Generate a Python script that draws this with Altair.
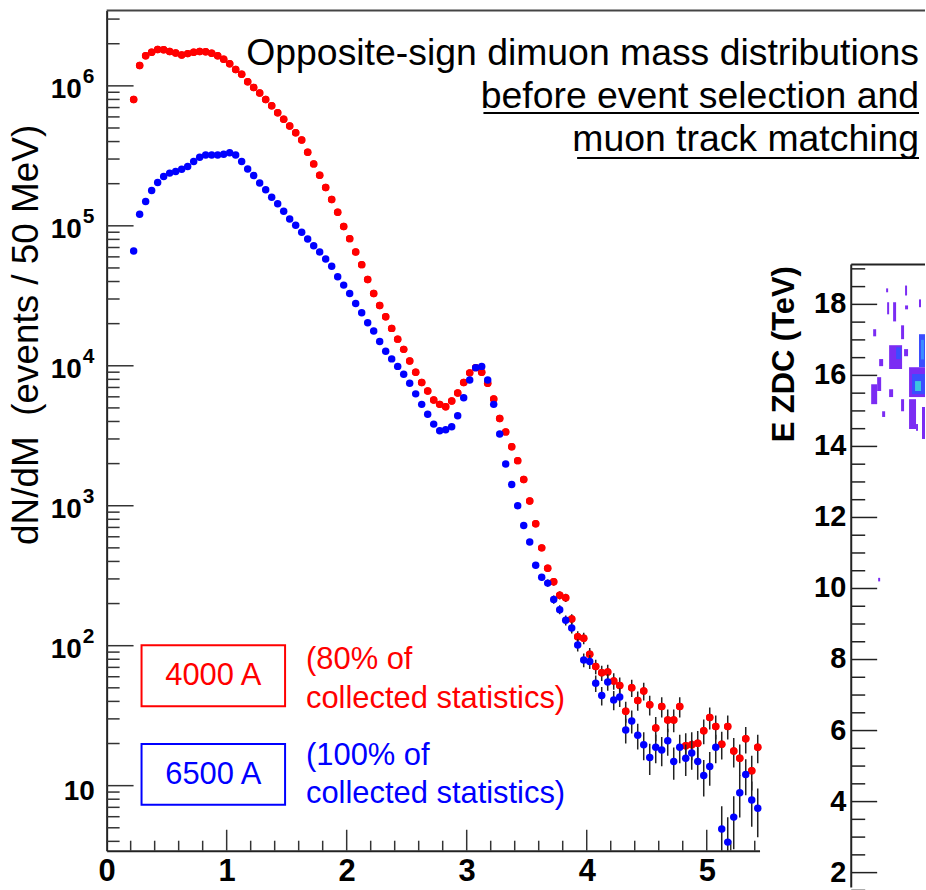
import altair as alt
import pandas as pd

# ---------------- data ----------------
mass = [round(0.225 + 0.05 * i, 3) for i in range(105)]  # bin centres, 50 MeV bins

red_4000A = [
    8.0e5, 1.40e6, 1.64e6, 1.74e6, 1.82e6, 1.81e6, 1.76e6, 1.72e6, 1.66e6, 1.70e6,
    1.74e6, 1.76e6, 1.75e6, 1.71e6, 1.64e6, 1.55e6, 1.44e6, 1.31e6, 1.21e6, 1.07e6,
    9.75e5, 8.9e5, 8.0e5, 7.2e5, 6.43e5, 5.77e5, 5.17e5, 4.63e5, 4.10e5, 3.35e5,
    2.77e5, 2.30e5, 1.88e5, 1.54e5, 1.25e5, 9.9e4, 8.1e4, 6.5e4, 5.28e4, 4.13e4,
    3.28e4, 2.70e4, 2.24e4, 1.85e4, 1.55e4, 1.31e4, 1.08e4, 9.0e3, 7.6e3, 6.6e3,
    5.7e3, 5.3e3, 5.1e3, 5.6e3, 6.4e3, 7.6e3, 8.9e3, 9.7e3, 9.0e3, 7.5e3,
    5.8e3, 4.2e3, 3.37e3, 2.64e3, 2.10e3, 1.54e3, 1.08e3, 743, 500, 358,
    286, 229, 220, 155, 116, 113, 87, 71, 64, 65,
    56, 52, 34, 50, 40.6, 47.5, 37.8, 25.8, 36.8, 29.5,
    29.5, 36.8, 19.3, 19.6, 20.1, 24.7, 30.7, 26.5, 19.8, 26.5,
    17.7, 15.7, 21.6, 12.8, 18.8,
]

blue_6500A = [
    6.6e4, 1.21e5, 1.49e5, 1.79e5, 2.04e5, 2.25e5, 2.38e5, 2.44e5, 2.54e5, 2.65e5,
    2.88e5, 3.09e5, 3.21e5, 3.21e5, 3.21e5, 3.25e5, 3.33e5, 3.21e5, 2.88e5, 2.55e5,
    2.29e5, 2.02e5, 1.81e5, 1.60e5, 1.44e5, 1.27e5, 1.12e5, 1.01e5, 9.0e4, 8.05e4,
    7.2e4, 6.5e4, 5.8e4, 5.14e4, 4.32e4, 3.77e4, 3.28e4, 2.79e4, 2.39e4, 2.03e4,
    1.77e4, 1.49e4, 1.27e4, 1.12e4, 9.9e3, 8.7e3, 7.5e3, 6.3e3, 5.3e3, 4.5e3,
    3.83e3, 3.43e3, 3.49e3, 3.67e3, 4.39e3, 5.9e3, 7.9e3, 9.7e3, 9.9e3, 7.9e3,
    5.3e3, 3.25e3, 1.99e3, 1.42e3, 1.0e3, 723, 551, 375, 308, 280,
    214, 181, 152, 134, 101, 79, 77, 54, 44, 55,
    41, 43, 25, 29, 22.9, 19.6, 15.9, 18.8, 18.0, 20.9,
    14.9, 18.8, 15.7, 17.1, 14.9, 11.8, 13.7, 18.8, 4.9, 3.95,
    5.96, 8.9, 12.0, 7.9, 6.9,
]

x_major = [0, 1, 2, 3, 4, 5]
y_major = [10, 100, 1000, 10000, 100000, 1000000]
y_exponent = ["", "2", "3", "4", "5", "6"]

# inset (E ZDC) axis and visible cells
zdc_major = [2, 4, 6, 8, 10, 12, 14, 16, 18]
zdc_minor = [1.5 + 0.5 * i for i in range(36) if (1.5 + 0.5 * i) % 2 != 0]
cell_x0 = [35, 54, 36, 42, 68, 54, 22, 50, 68, 70, 38, 45, 53, 28, 26, 20, 38, 58, 61, 64, 50, 58, 31, 71, 65, 27]
cell_x1 = [37, 56, 38, 45, 70, 57, 25, 53, 74, 73, 51, 50, 57, 32, 30, 26, 42, 74, 74, 70, 53, 65, 34, 74, 67, 29]
cell_y0 = [18.34, 18.25, 17.72, 17.52, 17.92, 17.86, 17.10, 17.02, 16.23, 16.45, 16.18, 16.46, 16.54, 16.26, 15.56, 15.19, 15.39, 15.39, 15.47, 15.56, 14.99, 14.49, 14.83, 14.21, 14.44, 10.2]
cell_y1 = [18.45, 18.53, 18.06, 18.06, 18.14, 17.97, 17.30, 17.41, 17.16, 17.0, 16.85, 16.79, 16.74, 16.46, 15.95, 15.75, 15.61, 16.23, 16.04, 15.84, 15.33, 15.33, 14.99, 15.11, 14.63, 10.3]
cell_lvl = [1, 1, 1, 1, 1, 1, 1, 1, 2, 3, 1, 2, 1, 1, 1, 1, 1, 1, 2, 4, 1, 1, 1, 1, 1, 1]

# ---------------- styles ----------------
NUM_FONT = "Liberation Sans"
TXT_FONT = "Liberation Sans"
W, H = 655, 843
XS = alt.Scale(domain=[0, 5.44], nice=False, zero=False)
YS = alt.Scale(type="log", domain=[3.43, 3.46e6], nice=False)
one = pd.DataFrame({"a": [0]})
NB = "\u00a0"

x_axis = alt.Axis(values=x_major, format="d", title=None, grid=False, ticks=False,
                  domainColor="#222", domainWidth=2, labelFont=NUM_FONT, labelFontSize=31,
                  labelFontWeight="bold", labelColor="black", labelPadding=6, labelFlush=False)
y_axis = alt.Axis(values=y_major, labels=False, grid=False, ticks=False,
                  domainColor="#222", domainWidth=2,
                  title=f"dN/dM{NB}{NB}(events / 50 MeV)", titleFont=TXT_FONT, titleFontSize=37,
                  titleFontWeight="normal", titleColor="black", titleAngle=-90,
                  titleX=-69, titleY=325, titleAlign="center", titleBaseline="alphabetic")

red_df = pd.DataFrame({"m": mass, "v": red_4000A})
blue_df = pd.DataFrame({"m": mass, "v": blue_6500A})


def err_layer(df):
    return alt.Chart(df).transform_calculate(
        lo="datum.v - sqrt(datum.v)", hi="datum.v + sqrt(datum.v)"
    ).mark_rule(color="#222", strokeWidth=1.5, clip=True).encode(
        x=alt.X("m:Q", scale=XS, axis=None),
        y=alt.Y("lo:Q", scale=YS, axis=None),
        y2="hi:Q",
    )


def pts_layer(df, col, with_axes=False):
    return alt.Chart(df).mark_circle(size=56, opacity=1, color=col).encode(
        x=alt.X("m:Q", scale=XS, axis=x_axis if with_axes else None),
        y=alt.Y("v:Q", scale=YS, axis=y_axis if with_axes else None),
    )


# y tick labels "10" with a raised exponent
lab_df = pd.DataFrame({"t": y_major, "e": y_exponent})
ylab_ten_1 = alt.Chart(lab_df[lab_df.t == 10]).mark_text(
    text="10", font=NUM_FONT, fontSize=28, fontWeight="bold", color="black",
    align="right", baseline="alphabetic", dy=14).encode(
    y=alt.Y("t:Q", scale=YS, axis=None), x=alt.value(-12))
ylab_ten = alt.Chart(lab_df[lab_df.t > 10]).mark_text(
    text="10", font=NUM_FONT, fontSize=28, fontWeight="bold", color="black",
    align="right", baseline="alphabetic", dy=12).encode(
    y=alt.Y("t:Q", scale=YS, axis=None), x=alt.value(-25))
ylab_exp = alt.Chart(lab_df[lab_df.t > 10]).mark_text(
    font=NUM_FONT, fontSize=21, fontWeight="bold", color="black",
    align="left", baseline="alphabetic", dy=-3).encode(
    y=alt.Y("t:Q", scale=YS, axis=None), x=alt.value(-24), text="e:N")

y_ticks_minor = [k * 10 ** n for n in range(0, 7) for k in range(2, 10)
                 if 3.43 <= k * 10 ** n <= 3.46e6]
ytick_major = alt.Chart(pd.DataFrame({"t": y_major})).mark_rule(color="#333", strokeWidth=1.5).encode(
    y=alt.Y("t:Q", scale=YS, axis=None), x=alt.value(0), x2=alt.value(27))
ytick_minor = alt.Chart(pd.DataFrame({"t": y_ticks_minor})).mark_rule(color="#333", strokeWidth=1.5).encode(
    y=alt.Y("t:Q", scale=YS, axis=None), x=alt.value(0), x2=alt.value(13))
x_minor = [round(0.2 * i, 1) for i in range(1, 28) if i % 5 != 0]
xtick_major = alt.Chart(pd.DataFrame({"t": x_major[1:]})).mark_rule(color="#333", strokeWidth=1.5).encode(
    x=alt.X("t:Q", scale=XS, axis=None), y=alt.value(H), y2=alt.value(H - 21))
xtick_minor = alt.Chart(pd.DataFrame({"t": x_minor})).mark_rule(color="#333", strokeWidth=1.5).encode(
    x=alt.X("t:Q", scale=XS, axis=None), y=alt.value(H), y2=alt.value(H - 10))

top_frame = alt.Chart(one).mark_rule(color="#444", strokeWidth=2).encode(
    x=alt.value(0), x2=alt.value(821), y=alt.value(0))


def txt(s, x, y, col="black", size=31, align="left", baseline="alphabetic", font=TXT_FONT,
        weight="normal", angle=0):
    return alt.Chart(one).mark_text(text=s, font=font, fontSize=size, color=col, fontWeight=weight,
                                    align=align, baseline=baseline, angle=angle).encode(
        x=alt.value(x), y=alt.value(y))


def box(y0, y1, col):
    return alt.Chart(one).mark_rect(fill=None, stroke=col, strokeWidth=2).encode(
        x=alt.value(35), x2=alt.value(179), y=alt.value(y0), y2=alt.value(y1))


def uline(x0, y):
    return alt.Chart(one).mark_rule(color="black", strokeWidth=2).encode(
        x=alt.value(x0), x2=alt.value(815), y=alt.value(y))


# ---------------- inset (placed with pixel ranges to the right of the main frame) ----------------
IX0, IX1 = 747, 821      # inset frame, relative to the main plot origin
IYT, IYB = 255, 880
IXS = alt.Scale(domain=[0, 74], range=[IX0, IX1], nice=False, zero=False)
IYS = alt.Scale(domain=[1.579, 19.12], range=[IYB, IYT], nice=False, zero=False)

cells = pd.DataFrame({"x0": cell_x0, "x1": cell_x1, "y0": cell_y0, "y1": cell_y1, "lvl": cell_lvl})
cell_layer = alt.Chart(cells).mark_rect().encode(
    x=alt.X("x0:Q", scale=IXS, axis=None), x2="x1:Q",
    y=alt.Y("y0:Q", scale=IYS, axis=None), y2="y1:Q",
    color=alt.Color("lvl:O", scale=alt.Scale(domain=[1, 2, 3, 4],
                                             range=["#7b2cf3", "#3b4dff", "#3c8cff", "#3cc6df"]),
                    legend=None),
)
zt_major = alt.Chart(pd.DataFrame({"t": zdc_major})).mark_rule(color="#222", strokeWidth=1.5).encode(
    y=alt.Y("t:Q", scale=IYS, axis=None), x=alt.value(IX0), x2=alt.value(IX0 + 26))
zt_minor = alt.Chart(pd.DataFrame({"t": zdc_minor})).mark_rule(color="#222", strokeWidth=1.5).encode(
    y=alt.Y("t:Q", scale=IYS, axis=None), x=alt.value(IX0), x2=alt.value(IX0 + 14))
zt_labels = alt.Chart(pd.DataFrame({"t": zdc_major})).mark_text(
    font=NUM_FONT, fontSize=29, fontWeight="bold", color="black", align="right", baseline="middle"
).encode(y=alt.Y("t:Q", scale=IYS, axis=None), x=alt.value(IX0 - 5), text="t:Q")
inset_left = alt.Chart(one).mark_rule(color="#222", strokeWidth=2).encode(
    x=alt.value(IX0), y=alt.value(IYT), y2=alt.value(IYB))
inset_top = alt.Chart(one).mark_rule(color="#222", strokeWidth=2).encode(
    x=alt.value(IX0), x2=alt.value(IX1), y=alt.value(IYT))
inset_title = txt("E ZDC (TeV)", IX0 - 57, 345, "black", 31, "center", "alphabetic",
                  TXT_FONT, "bold", 270)

chart = alt.layer(
    pts_layer(red_df, "#ff0000", with_axes=True),
    ylab_ten_1, ylab_ten, ylab_exp,
    top_frame, ytick_major, ytick_minor, xtick_major, xtick_minor,
    err_layer(red_df), pts_layer(red_df, "#ff0000"),
    err_layer(blue_df), pts_layer(blue_df, "#0000ff"),
    box(637, 698, "#ff0000"), box(736, 797, "#0000ff"),
    txt("4000 A", 107, 668, "#ff0000", 31, "center", "middle"),
    txt("6500 A", 107, 767, "#0000ff", 31, "center", "middle"),
    txt("(80% of", 200, 661, "#ff0000"),
    txt("collected statistics)", 200, 700, "#ff0000"),
    txt("(100% of", 200, 757, "#0000ff"),
    txt("collected statistics)", 200, 795, "#0000ff"),
    txt("Opposite-sign dimuon mass distributions", 815, 55, "black", 37.5, "right"),
    txt("before event selection and", 815, 98, "black", 37.5, "right"),
    txt("muon track matching", 815, 141, "black", 37.5, "right"),
    uline(378, 103), uline(472, 148),
    cell_layer, zt_major, zt_minor, zt_labels, inset_left, inset_top, inset_title,
).resolve_scale(x="independent", y="independent").properties(
    width=W, height=H,
    padding={"left": 8, "top": 8, "right": 0, "bottom": 0},
).configure(background="white").configure_view(stroke=None)

chart.save("out.html", embed_options={"renderer": "svg", "actions": False})
